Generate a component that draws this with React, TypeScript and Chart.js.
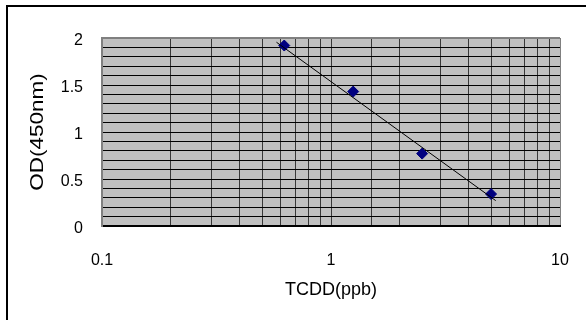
import React, { useEffect, useRef } from "react";
import { Chart, registerables } from "chart.js";

Chart.register(...registerables);

// Data
const concentrations = [0.625, 1.25, 2.5, 5];
const odValues = [1.92, 1.43, 0.77, 0.34];
const trendX = [0.578, 5.24];
const trendY = [1.955, 0.27];
const xMajorTicks = [0.1, 1, 10];
const yMajorStep = 0.5;
const xTitle = "TCDD(ppb)";
const yTitle = "OD(450nm)";

const FONT = "'Liberation Sans', Arial, sans-serif";

const plotBackground = {
  id: "plotBackground",
  beforeDraw(chart: any) {
    const { ctx, chartArea } = chart;
    ctx.save();
    ctx.fillStyle = "#C0C0C0";
    ctx.fillRect(chartArea.left, chartArea.top, chartArea.right - chartArea.left, chartArea.bottom - chartArea.top);
    ctx.restore();
  },
};

// Draws the vertical axis title (slightly elongated like the reference)
const yTitlePlugin = {
  id: "yTitlePlugin",
  afterDraw(chart: any) {
    const { ctx, chartArea } = chart;
    ctx.save();
    ctx.translate(38.5, (chartArea.top + chartArea.bottom) / 2);
    ctx.rotate(-Math.PI / 2);
    ctx.scale(1.25, 1);
    ctx.font = `18px ${FONT}`;
    ctx.fillStyle = "#000000";
    ctx.textAlign = "center";
    ctx.textBaseline = "middle";
    ctx.fillText(yTitle, 0, 0);
    ctx.restore();
  },
};

export default function App() {
  const ref = useRef<HTMLCanvasElement | null>(null);
  useEffect(() => {
    if (!ref.current) return;
    const chart = new Chart(ref.current, {
      type: "scatter",
      data: {
        datasets: [
          {
            label: "trend",
            data: trendX.map((x, i) => ({ x, y: trendY[i] })),
            showLine: true,
            borderColor: "#000000",
            borderWidth: 1,
            pointRadius: 0,
            fill: false,
          },
          {
            label: "OD",
            data: concentrations.map((x, i) => ({ x, y: odValues[i] })),
            showLine: false,
            pointStyle: "rectRot",
            pointRadius: 5.5,
            backgroundColor: "#000080",
            borderColor: "#000080",
            borderWidth: 1,
          },
        ],
      },
      options: {
        responsive: false,
        animation: false,
        devicePixelRatio: 1,
        layout: { padding: { top: 38, right: 26, left: 0, bottom: 0 } },
        plugins: { legend: { display: false }, tooltip: { enabled: false } },
        scales: {
          x: {
            type: "logarithmic",
            position: "bottom",
            min: 0.1,
            max: 10,
            afterFit: (s: any) => {
              s.height = 94;
              s.paddingLeft = 0;
              s.paddingRight = 0;
            },
            border: { color: "#000000", width: 2 },
            grid: {
              drawTicks: false,
              color: (c: any) => (c.tick && Math.abs(c.tick.value - 10) < 1e-9 ? "#808080" : "#383838"),
              lineWidth: 1,
            },
            ticks: {
              autoSkip: false,
              maxRotation: 0,
              padding: 25,
              color: "#000000",
              font: { family: FONT, size: 16 },
              callback: (v: any) => {
                const n = Number(v);
                return xMajorTicks.some((t) => Math.abs(n - t) < 1e-9) ? String(n) : "";
              },
            },
            title: {
              display: true,
              text: xTitle,
              color: "#000000",
              font: { family: FONT, size: 18 },
              padding: { top: 0, bottom: 19 },
            },
          },
          y: {
            type: "linear",
            position: "left",
            min: 0,
            max: 2,
            afterFit: (s: any) => {
              s.width = 102;
              s.paddingTop = 0;
              s.paddingBottom = 0;
            },
            border: { color: "#808080", width: 2 },
            grid: {
              drawTicks: false,
              color: (c: any) => (c.tick && Math.abs(c.tick.value - 2) < 1e-9 ? "#808080" : "#000000"),
              lineWidth: (c: any) => (c.tick && Math.abs(c.tick.value - 2) < 1e-9 ? 2 : 1),
            },
            ticks: {
              stepSize: 0.1,
              maxTicksLimit: 30,
              autoSkip: false,
              padding: 19,
              labelOffset: 3,
              color: "#000000",
              font: { family: FONT, size: 16 },
              callback: (v: any) => {
                const n = Number(v);
                const r = n / yMajorStep;
                return Math.abs(r - Math.round(r)) < 1e-6 ? String(+n.toFixed(1)) : "";
              },
            },
            title: { display: false, text: yTitle },
          },
        },
      },
      plugins: [plotBackground, yTitlePlugin],
    } as any);
    return () => chart.destroy();
  }, []);

  return (
    <div style={{ position: "absolute", left: 0, top: 0, width: 586, height: 320, background: "#ffffff", overflow: "hidden" }}>
      <canvas ref={ref} width={586} height={320} style={{ position: "absolute", left: 0, top: 0, width: 586, height: 320 }} />
      <div style={{ position: "absolute", left: 6, top: 5, width: 2, height: 320, background: "#000" }} />
      <div style={{ position: "absolute", left: 6, top: 5, width: 586, height: 2, background: "#000" }} />
    </div>
  );
}
